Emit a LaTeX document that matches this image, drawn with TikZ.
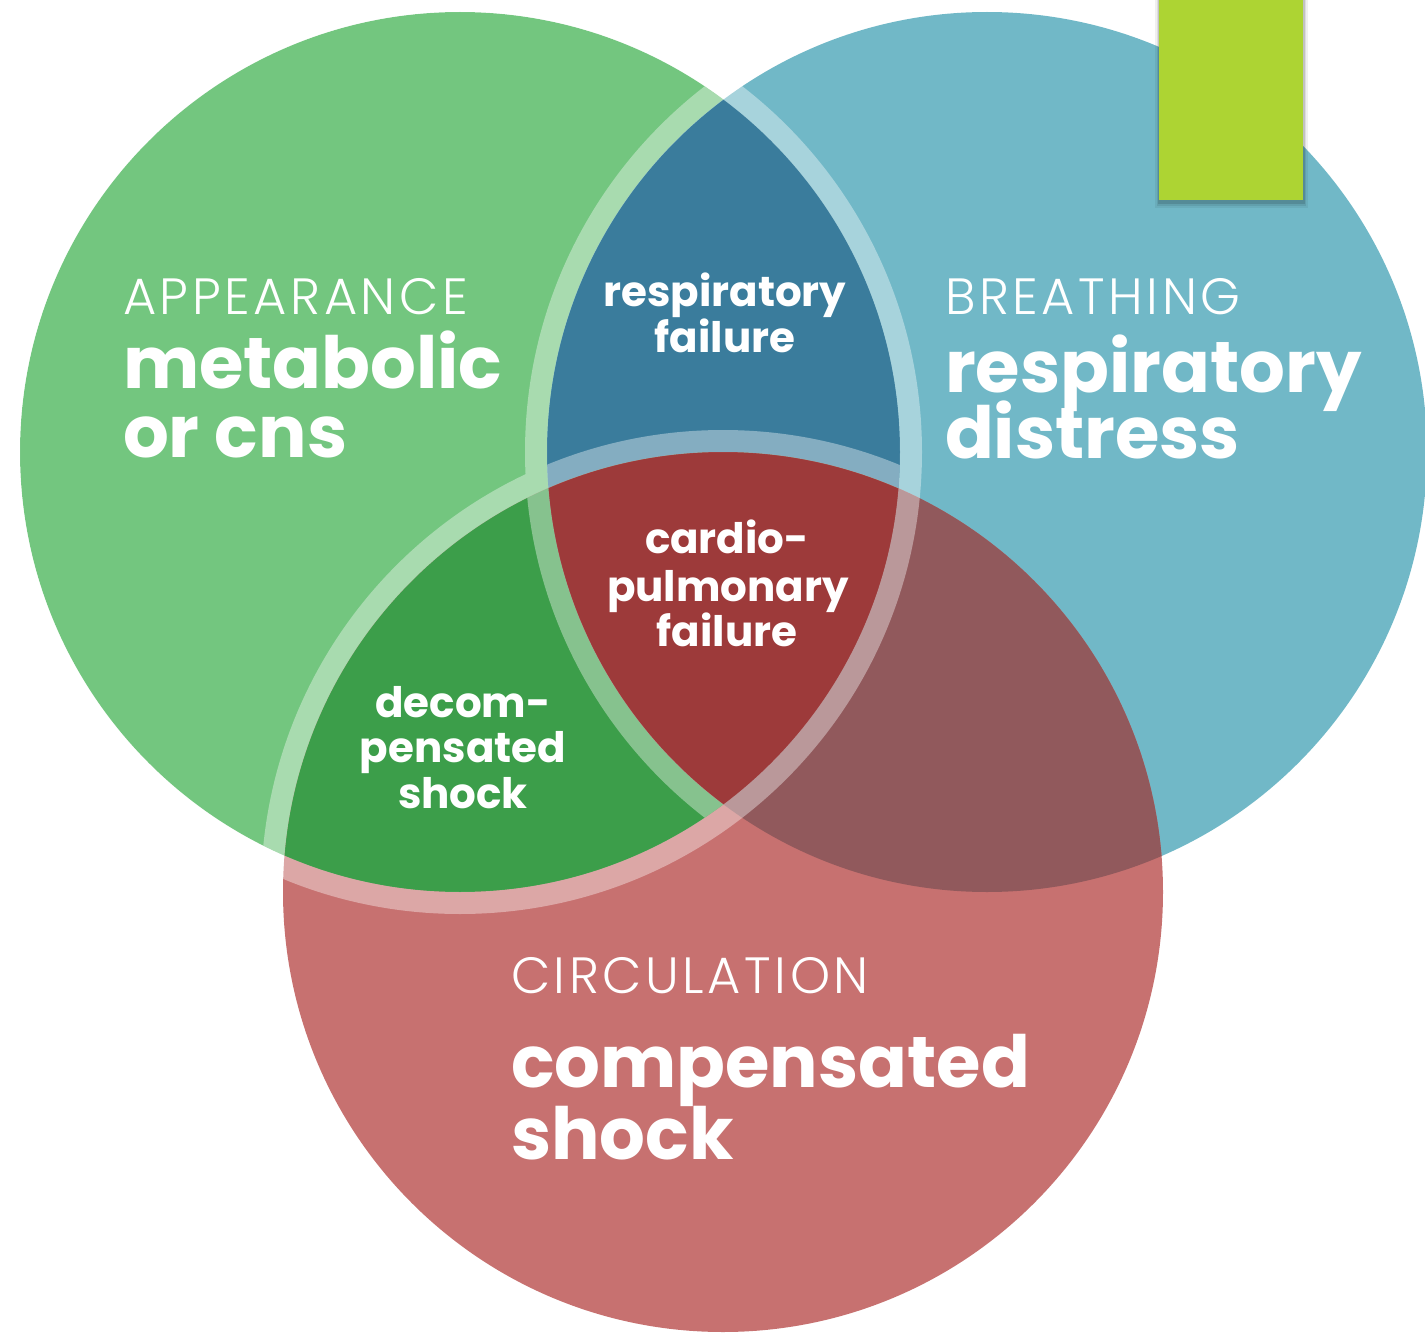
\documentclass[tikz,border=0pt]{standalone}
\usepackage{fontspec}
\setmainfont{Poppins}
\IfFontExistsTF{Poppins Light}{\newfontfamily\capsfont{Poppins Light}[LetterSpace=7]}{\newfontfamily\capsfont{Poppins}[LetterSpace=7]}
\usetikzlibrary{calc}

% region colours of the three-circle Venn diagram
\definecolor{appGreen}{HTML}{73C67F}
\definecolor{brBlue}{HTML}{71B8C7}
\definecolor{circRed}{HTML}{C77170}
\definecolor{gbDark}{HTML}{3A7C9C}
\definecolor{grDark}{HTML}{3C9E4A}
\definecolor{brMauve}{HTML}{91595C}
\definecolor{coreRed}{HTML}{9D3A3A}
\definecolor{tabLime}{HTML}{ADD433}

\newcommand\vennR{440}
\newcommand\haloR{451}

\begin{document}
\begin{tikzpicture}[x=1pt,y=-1pt,
  halo/.style={draw=white, line width=22pt},
  word/.style={text=white, inner sep=0pt, outer sep=0pt},
  caps/.style={word, anchor=base west, font=\capsfont\fontsize{51}{51}\selectfont},
  head/.style={word, anchor=base west, font=\bfseries\fontsize{72}{72}\selectfont},
  lens/.style={word, anchor=base, font=\bfseries\fontsize{42}{42}\selectfont}]

\useasboundingbox (0,0) rectangle (1425,1335);
\clip (0,0) rectangle (1425,1335);

\coordinate (gC) at (460,452);
\coordinate (bC) at (987,452);
\coordinate (rC) at (723,892);

% plain discs
\fill[appGreen] (gC) circle[radius=\vennR];
\fill[brBlue]   (bC) circle[radius=\vennR];
\fill[circRed]  (rC) circle[radius=\vennR];

% pairwise overlaps
\begin{scope}
  \clip (gC) circle[radius=\vennR];
  \fill[gbDark] (bC) circle[radius=\vennR];
  \fill[grDark] (rC) circle[radius=\vennR];
\end{scope}
\begin{scope}
  \clip (bC) circle[radius=\vennR];
  \fill[brMauve] (rC) circle[radius=\vennR];
\end{scope}
% triple overlap
\begin{scope}
  \clip (gC) circle[radius=\vennR];
  \clip (bC) circle[radius=\vennR];
  \fill[coreRed] (rC) circle[radius=\vennR];
\end{scope}

% pale rims along the circle edges
\begin{scope}[transparency group, opacity=.38]
  \draw[halo] (gC) circle[radius=\haloR];
  \begin{scope}
    \clip (gC) circle[radius=\vennR];
    \draw[halo] (bC) circle[radius=\haloR];
    \draw[halo] (rC) circle[radius=\haloR];
  \end{scope}
\end{scope}

% lime tab with a soft shadow
\fill[black, opacity=.06] (1155,0) rectangle (1308,208);
\fill[black, opacity=.08] (1157,0) rectangle (1306,206);
\fill[black, opacity=.12] (1158,0) rectangle (1305,204);
\node[fill=tabLime, minimum width=144pt, minimum height=200pt, inner sep=0pt,
      anchor=north west] (tab) at (1159,0) {};

% outer labels
\node[caps] (appCap) at (123,314) {APPEARANCE};
\node[head] (appA) at (123,388) {metabolic};
\node[head] (appB) at (123,457) {or cns};

\node[caps] (brCap) at (945,314) {BREATHING};
\node[head] (brA) at (945,392) {respiratory};
\node[head] (brB) at (945,458) {distress};

\node[caps] (ciCap) at (511,993) {CIRCULATION};
\node[head] (ciA) at (511,1087) {compensated};
\node[head] (ciB) at (511,1159) {shock};

% overlap labels
\node[lens] (rfA) at (725,306) {respiratory};
\node[lens] (rfB) at (725,352) {failure};

\node[lens] (cpA) at (727,553) {cardio-};
\node[lens] (cpB) at (728,601) {pulmonary};
\node[lens] (cpC) at (727,646) {failure};

\node[lens] (dsA) at (463,717) {decom-};
\node[lens] (dsB) at (463,762) {pensated};
\node[lens] (dsC) at (463,808) {shock};
\end{tikzpicture}
\end{document}
